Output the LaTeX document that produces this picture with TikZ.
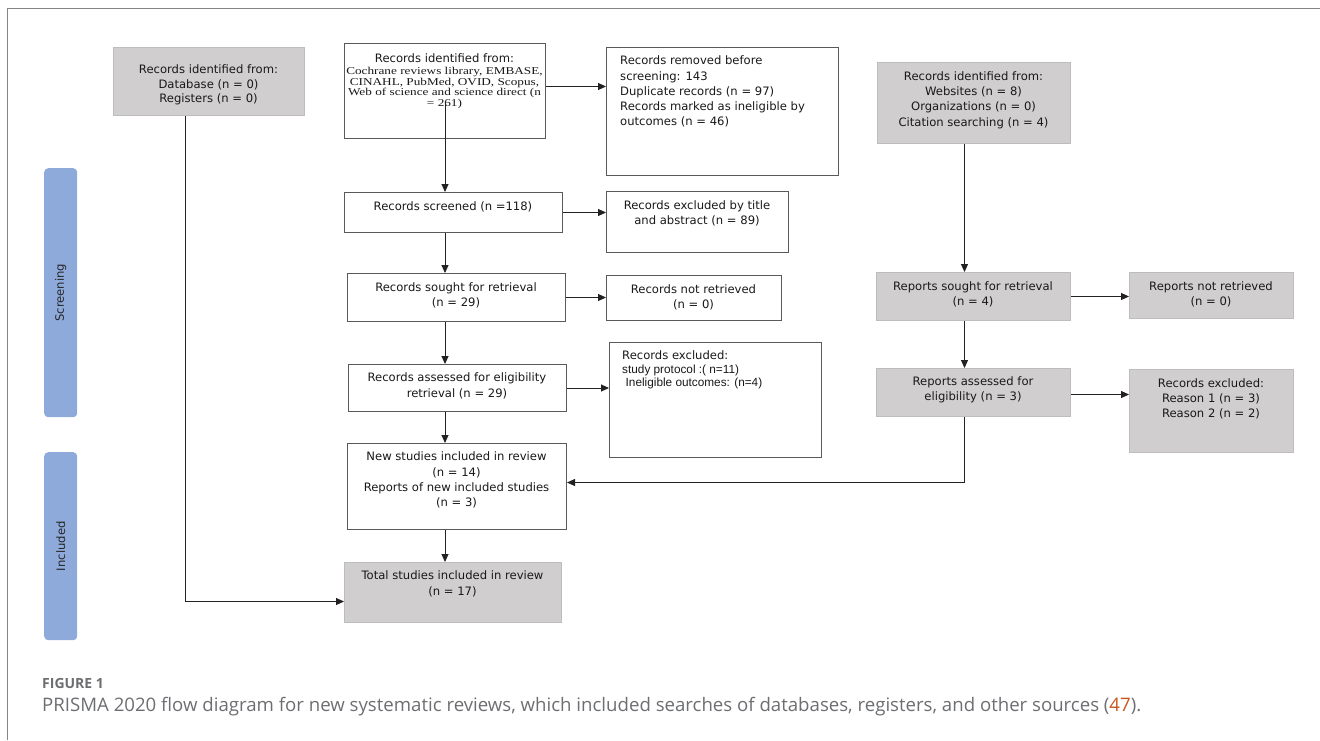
\documentclass[tikz,border=0pt]{standalone}
\usepackage{fontspec}
\setmainfont{DejaVu Sans}
\newfontfamily\serifx[FakeStretch=1.26]{Liberation Serif}
\newfontfamily\arialx{Liberation Sans}
\newfontfamily\capfont{Open Sans}
\usetikzlibrary{arrows.meta,calc}
\definecolor{boxline}{HTML}{5A5A5A}
\definecolor{grayfill}{HTML}{D0CECF}
\definecolor{grayline}{HTML}{BDBDBD}
\definecolor{barblue}{HTML}{8EAADB}
\definecolor{capgray}{HTML}{6D6E71}
\definecolor{refor}{HTML}{C8551E}
\definecolor{framegray}{HTML}{858585}
\definecolor{arrcol}{HTML}{222222}
\begin{document}
\begin{tikzpicture}[x=1pt,y=-1pt,
  wbox/.style={draw=boxline, line width=1pt, fill=white, inner sep=0pt, anchor=north west},
  gbox/.style={draw=grayline, line width=1pt, fill=grayfill, inner sep=0pt, anchor=north west},
  bar/.style={fill=barblue, rounded corners=4pt, inner sep=0pt, anchor=north west},
  txt/.style={font=\fontsize{11.6}{15.2}\selectfont, align=center, inner sep=0pt, text=black!90},
  ltxt/.style={txt, align=left, anchor=west},
  bartxt/.style={font=\fontsize{11.6}{14}\selectfont, rotate=90, inner sep=0pt, text=black!85},
  arr/.style={draw=arrcol, line width=0.9pt, -{Triangle[length=8pt,width=7pt]}},
  plain/.style={draw=arrcol, line width=0.9pt},
  frame/.style={draw=framegray, line width=1.2pt}
]
\useasboundingbox (0,0) rectangle (1320,740);
\draw[frame] (7.6,740) -- (7.6,8.7) -- (1320,8.7);

% phase bars
\node[bar, minimum width=33pt, minimum height=249pt] (scrbar) at (44,168) {};
\node[bartxt] (scrbartxt) at (scrbar.center) {Screening};
\node[bar, minimum width=33pt, minimum height=188pt] (incbar) at (44,452) {};
\node[bartxt] (incbartxt) at (incbar.center) {Included};

% boxes
\node[gbox, minimum width=191pt, minimum height=68pt] (A) at (113,47) {};
\node[wbox, minimum width=201pt, minimum height=95pt] (B) at (344,43) {};
\node[wbox, minimum width=232pt, minimum height=128pt] (C) at (606,47) {};
\node[gbox, minimum width=193pt, minimum height=81pt] (D) at (877,62) {};
\node[wbox, minimum width=218pt, minimum height=40pt] (scr) at (344,192) {};
\node[wbox, minimum width=182pt, minimum height=61pt] (et) at (606,191) {};
\node[wbox, minimum width=218pt, minimum height=48pt] (so) at (347,273) {};
\node[wbox, minimum width=175pt, minimum height=45pt] (nr) at (606,275) {};
\node[wbox, minimum width=218pt, minimum height=47pt] (as) at (348,364) {};
\node[wbox, minimum width=212pt, minimum height=115pt] (e2) at (609,342) {};
\node[wbox, minimum width=219pt, minimum height=86pt] (new) at (347,443) {};
\node[gbox, minimum width=217pt, minimum height=60pt] (tot) at (344,562) {};
\node[gbox, minimum width=194pt, minimum height=48pt] (rs) at (876,272) {};
\node[gbox, minimum width=164pt, minimum height=46pt] (rnr) at (1129,272) {};
\node[gbox, minimum width=194pt, minimum height=48pt] (ra) at (876,368) {};
\node[gbox, minimum width=164pt, minimum height=83pt] (rer) at (1129,369) {};

% texts
\node[txt, font=\fontsize{11.6}{14.3}\selectfont] (At) at (208.5,85) {Records identified from:\\Database (n = 0)\\Registers (n = 0)};
\node[txt] (Bt1) at (444.5,58.3) {Records identified from:};
\node[txt, font=\serifx\fontsize{10.5}{10.6}\selectfont] (Bt2) at (444.5,88) {Cochrane reviews library, EMBASE,\\CINAHL, PubMed, OVID, Scopus,\\Web of science and science direct (n\\= 261)};
\node[ltxt] (Ct) at (620,91.7) {Records removed before\\screening: 143\\Duplicate records (n = 97)\\Records marked as ineligible by\\outcomes (n = 46)};
\node[txt] (Dt) at (973.5,100) {Records identified from:\\Websites (n = 8)\\Organizations (n = 0)\\Citation searching (n = 4)};
\node[txt] (scrt) at (453,206.7) {Records screened (n =118)};
\node[txt] (ett) at (697,213.3) {Records excluded by title\\and abstract (n = 89)};
\node[txt] (sot) at (456,295.7) {Records sought for retrieval\\(n = 29)};
\node[txt] (nrt) at (693.5,297.5) {Records not retrieved\\(n = 0)};
\node[txt] (ast) at (457,385.8) {Records assessed for eligibility\\retrieval (n = 29)};
\node[ltxt, font=\fontsize{11.6}{13.3}\selectfont] (e2t) at (622,370) {Records excluded:\\{\arialx\fontsize{11.8}{13.3}\selectfont study protocol :( n=11)}\\{\arialx\fontsize{11.8}{13.3}\selectfont\hspace*{3.5pt}Ineligible outcomes: (n=4)}};
\node[txt] (newt) at (456.5,480) {New studies included in review\\(n = 14)\\Reports of new included studies\\(n = 3)};
\node[txt] (tott) at (452.5,583.8) {Total studies included in review\\(n = 17)};
\node[txt] (rst) at (973,294) {Reports sought for retrieval\\(n = 4)};
\node[txt] (rnrt) at (1211,294) {Reports not retrieved\\(n = 0)};
\node[txt] (rat) at (973,390) {Reports assessed for\\eligibility (n = 3)};
\node[txt] (rert) at (1211,398.7) {Records excluded:\\Reason 1 (n = 3)\\Reason 2 (n = 2)};

% connectors
\coordinate (al) at ([xshift=-23.5pt]A.south);
\coordinate (dl) at ([xshift=-9.5pt]D.south);
\draw[arr] (al) |- ([yshift=-9pt]tot.west);
\draw[plain] ([yshift=37pt]B.south) -- (B.south);
\draw[arr] (B.south) -- (B.south |- scr.north);
\draw[arr] ([yshift=4.5pt]B.east) -- ([yshift=4.5pt]B.east -| C.west);
\draw[arr] (scr.east) -- (scr.east -| et.west);
\draw[arr] (B.south |- scr.south) -- (B.south |- so.north);
\draw[arr] (so.east) -- (so.east -| nr.west);
\draw[arr] (B.south |- so.south) -- (B.south |- as.north);
\draw[arr] (as.east) -- (as.east -| e2.west);
\draw[arr] (B.south |- as.south) -- (B.south |- new.north);
\draw[arr] (B.south |- new.south) -- (B.south |- tot.north);
\draw[arr] (dl) -- (dl |- rs.north);
\draw[arr] (rs.east) -- (rs.east -| rnr.west);
\draw[arr] (dl |- rs.south) -- (dl |- ra.north);
\draw[arr] ([yshift=-2pt]ra.east) -- ([yshift=-2pt]ra.east -| rer.west);
\draw[arr] (dl |- ra.south) |- ([yshift=4pt]new.east);

% caption
\node[anchor=west, inner sep=0pt, text=capgray, font=\capfont\bfseries\fontsize{14}{16}\selectfont] (fig) at (42,683) {FIGURE 1};
\node[anchor=west, inner sep=0pt, text=capgray] (cap) at (42,707) {\resizebox{1099pt}{!}{\capfont\fontsize{17.5}{20}\selectfont PRISMA 2020 flow diagram for new systematic reviews, which included searches of databases, registers, and other sources (\textcolor{refor}{47}).}};
\end{tikzpicture}
\end{document}
